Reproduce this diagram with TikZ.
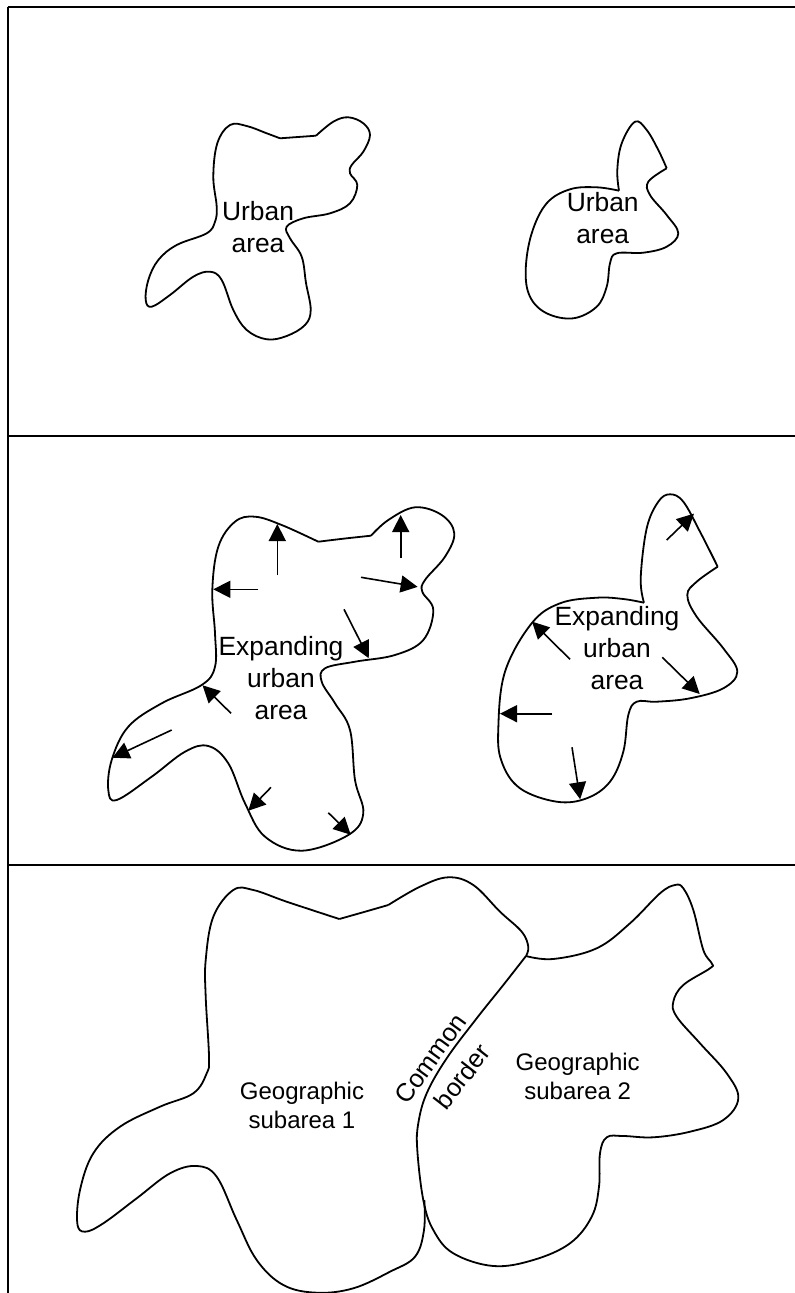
\documentclass[tikz,border=0pt]{standalone}
\usepackage{fontspec}
\setmainfont{Liberation Sans}
\usetikzlibrary{arrows.meta}
\tikzset{
  outline/.style={line width=1.8pt,black,tension=0.62,line join=round},
  frameline/.style={line width=1.8pt,black},
  growarrow/.style={line width=1.6pt,black,-{Triangle[length=17pt,width=17pt]},shorten >=-1pt},
  biglabel/.style={align=center,inner sep=0pt,font=\fontsize{26.4}{32}\selectfont,text=black},
  geolabel/.style={align=center,inner sep=0pt,font=\fontsize{24}{29}\selectfont,text=black},
  sloped label/.style={font=\fontsize{25.5}{30}\selectfont,inner sep=0pt,text=black}
}
\begin{document}
\begin{tikzpicture}[x=1pt,y=-1pt]
\useasboundingbox (0,0) rectangle (795,1293);
% frame
\coordinate (tl) at (7.7,6.7); \coordinate (tr) at (795,6.7);
\coordinate (ml) at (7.7,435.7); \coordinate (mr) at (795,435.7);
\coordinate (bl) at (7.7,864.7); \coordinate (br) at (795,864.7);
\coordinate (el) at (7.7,1293);
\draw[frameline] (tl)--(tr);
\draw[frameline] (ml)--(mr);
\draw[frameline] (bl)--(br);
\draw[frameline] (tl)--(el);
% top left
\draw[outline] plot[smooth] coordinates {(280,138.3)(298,137)(316,135.7)};
\draw[outline] plot[smooth] coordinates {(316,135.7)(333.3,121.7)(348.3,117.3)(363.3,123.3)(370,135)(363.3,151.7)(351.7,165)(350,173.3)(357.3,185)(350,203.3)(330,213.3)(303.3,218.3)(286.7,226.7)(290,238.3)(301.7,256.7)(306,283)(310.7,310)(305,325)(286.7,336)(266.7,339.3)(246.7,330)(233.3,310)(221.7,280)(210,271.7)(193.3,276.7)(170,295)(151.7,306.7)(145.7,300)(148.3,280)(158.3,260)(176.7,245)(206.7,233.3)(215,221.7)(216.7,206.7)(213.3,176.7)(217.3,143.3)(230,125)(246.7,126)(266.7,133.3)(280,138.3)};
% top right
\draw[outline] plot[smooth] coordinates {(619,190.7)(617.3,170)(621.7,143.3)(635,121.7)(646.7,130)(658.3,150)(666.7,168.3)};
\draw[outline] plot[smooth] coordinates {(666.7,168.3)(648.3,181.7)(650,195)(666.7,215)(678.3,233.3)(666.7,246.7)(643.3,252.7)(616.7,253.3)(610,263.3)(606.7,286.7)(596.7,306.7)(573.3,318.3)(546.7,313.3)(530,296.7)(525.7,270)(531.7,233.3)(546.7,203.3)(570,189.3)(596.7,187.3)(619,190.7)};
\node[biglabel] (u1) at (258,227.5) {Urban\\area};
\node[biglabel] (u2) at (602.7,218) {Urban\\area};
% middle left
\draw[outline] plot[smooth] coordinates {(318.3,541.7)(345,538.5)(371,535.7)};
\draw[outline] plot[smooth] coordinates {(371,535.7)(388.3,520)(415,507.3)(441.7,515)(454.3,533.3)(445,556.7)(425,580)(422.3,591.7)(433.3,610)(423.3,640)(395,655)(355,661.7)(325,668.3)(321.7,681.7)(335,703.3)(350,730)(355,780)(363.3,813.3)(348.3,835)(301.7,850.7)(265,836.7)(245,803.3)(228.3,763.3)(208.3,746)(185,751.7)(151.7,776.7)(116.7,800)(108.3,790)(111.7,760)(128.3,726.7)(161.7,703.3)(201.7,685)(215,666.7)(215,633.3)(212.3,590)(218.3,546.7)(235,521.7)(255,516.7)(281.7,525)(318.3,541.7)};
% middle right
\draw[outline] plot[smooth] coordinates {(644,602.7)(640.7,578.3)(646.7,528.3)(658.3,501.7)(670,494.3)(683.3,501.7)(700,531.7)(717.7,566.7)};
\draw[outline] plot[smooth] coordinates {(717.7,566.7)(696.7,581.7)(687.3,595)(696.7,616.7)(723.3,648.3)(737.3,671.7)(723.3,688.3)(690,698.3)(656.7,701.7)(636.7,701.7)(628.3,715)(623.3,751.7)(610,781.7)(586.7,798.3)(556.7,801.7)(520,788.3)(501.7,761.7)(498.3,728.3)(505,671.7)(531.7,623.3)(560,603.3)(596.7,597.7)(623.3,599)(644,602.7)};
% arrows, left
\coordinate (a1s) at (277.3,575); \coordinate (a1e) at (277.3,525);
\coordinate (a2s) at (400.7,558.3); \coordinate (a2e) at (400.7,516);
\coordinate (a3s) at (258.3,589.3); \coordinate (a3e) at (214.3,589.3);
\coordinate (a4s) at (361,577.3); \coordinate (a4e) at (416.7,586.7);
\coordinate (a5s) at (344,609.3); \coordinate (a5e) at (368.3,657.3);
\coordinate (a6s) at (231,713.3); \coordinate (a6e) at (203.3,686);
\coordinate (a7s) at (171.7,730); \coordinate (a7e) at (113.3,757.3);
\coordinate (a8s) at (271,787.3); \coordinate (a8e) at (249,810);
\coordinate (a9s) at (328.3,812.7); \coordinate (a9e) at (350,834);
\foreach \i in {1,...,9} \draw[growarrow] (a\i s)--(a\i e);
% arrows, right
\coordinate (b1s) at (666.7,540); \coordinate (b1e) at (693.3,514.3);
\coordinate (b2s) at (570,659.3); \coordinate (b2e) at (532.7,622.3);
\coordinate (b3s) at (662.3,657.3); \coordinate (b3e) at (699,693.3);
\coordinate (b4s) at (552.3,713.7); \coordinate (b4e) at (501,713.7);
\coordinate (b5s) at (572,747.3); \coordinate (b5e) at (580,798.3);
\foreach \i in {1,...,5} \draw[growarrow] (b\i s)--(b\i e);
\node[biglabel] (e1) at (281,678) {Expanding\\urban\\area};
\node[biglabel] (e2) at (617,648) {Expanding\\urban\\area};
% bottom: subarea 1 and common border
\draw[outline] plot[smooth] coordinates {(339.3,919)(364,912)(388.3,905)};
\draw[outline] plot[smooth] coordinates {(388.3,905)(420,886.7)(448.3,877.3)(473.3,885)(500,911.7)(521.7,931.7)(528.3,946.7)(526,956)};
\draw[outline] plot[smooth] coordinates {(526,956)(503.3,985)(476.7,1018.3)(446.7,1058.3)(426.7,1093.3)(418.3,1123.3)(417.3,1150)(423.3,1200)(433.3,1230)(453.3,1253.3)(493.3,1266)(533.3,1260)(570,1243.3)(591.7,1216.7)(599,1186.7)(600,1153.3)(606.7,1137.3)(623.3,1136)(653.3,1137.3)(690,1131.7)(723.3,1120)(738.3,1098.3)(726.7,1073.3)(700,1043.3)(676.7,1016.7)(673.3,1001.7)(683.3,985)(710,968.3)(711.7,963.3)(703.3,950)(693.3,910)(683.3,888.3)(675,885)(660,893.3)(630,923.3)(596.7,948.3)(553.3,959)(526,956)};
\draw[outline] plot[smooth] coordinates {(424.3,1200)(424,1230)(415,1256.7)(390,1271.7)(353.3,1288.3)(316.7,1292.7)(283.3,1285)(256.7,1260)(236.7,1220)(216.7,1176.7)(196.7,1166)(170,1173.3)(136.7,1198.3)(103.3,1223.3)(85,1231.7)(77.3,1223.3)(80,1190)(93.3,1153.3)(120,1126.7)(160,1106.7)(193.3,1093.3)(206.7,1073.3)(209,1056.7)(205.7,996.7)(205.7,960)(213.3,916.7)(233.3,890)(253.3,890)(286.7,901.7)(339.3,919)};
\node[geolabel] (g1) at (302,1105) {Geographic\\subarea 1};
\node[geolabel] (g2) at (577.7,1076) {Geographic\\subarea 2};
\node[sloped label,rotate=54] (cm) at (430.5,1058.5) {Common};
\node[sloped label,rotate=52] (bd) at (462,1076.5) {border};
\end{tikzpicture}
\end{document}
